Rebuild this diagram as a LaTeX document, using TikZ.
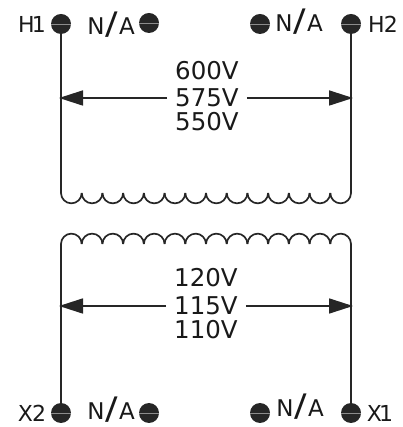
\documentclass[tikz,border=0pt]{standalone}
\usepackage{fontspec}
\setmainfont{DejaVu Sans}
\usetikzlibrary{arrows.meta}
\tikzset{
	terminal/.style = {circle, fill=black!85, draw=none, minimum size=20pt, inner sep=0pt,
		path picture={\draw[black!45, line width=0.7pt] (path picture bounding box.west) -- (path picture bounding box.east);}},
	wire/.style = {line width=2pt, black!85},
	coil/.style = {line width=1.7pt, black!85},
	dimline/.style = {line width=1.7pt, black!85, -{Triangle[length=24pt,width=15pt]}, shorten >=-2pt},
	lbl/.style = {font=\fontsize{22}{22}\selectfont, text=black!90, inner sep=0pt},
	nalbl/.style = {lbl, font=\fontsize{23}{23}\selectfont, anchor=base},
	volt/.style = {lbl, font=\fontsize{24.5}{24.5}\selectfont, inner xsep=8pt}
}
\newcommand{\terminalnode}[3]{
	\node[terminal] (#1) at (#2,#3) {};
}
\newcommand{\notused}{N\kern 1pt{\fontsize{31}{31}\selectfont\scalebox{1.2}[1]{/}}\kern 1pt A}
\begin{document}
\begin{tikzpicture}[x=1pt,y=1pt]
	\useasboundingbox (0,0) rectangle (402,427);
	% terminals
	\terminalnode{H1}{61}{403}
	\terminalnode{NAa}{149}{404}
	\terminalnode{NAb}{260}{403}
	\terminalnode{H2}{351}{403}
	\terminalnode{X2}{61}{14}
	\terminalnode{NAc}{149}{14}
	\terminalnode{NAd}{260}{14}
	\terminalnode{X1}{351}{14}
	\node[lbl] (labelH1) at (32,403) {H\kern-3pt 1};
	\node[nalbl] (labelNAa) at (111,392) {\notused};
	\node[nalbl] (labelNAb) at (299,395) {\notused};
	\node[lbl] (labelH2) at (383,403) {H\kern-1pt 2};
	\node[lbl] (labelX2) at (32,14) {X\kern-1pt 2};
	\node[nalbl] (labelNAc) at (111,7.5) {\notused};
	\node[nalbl] (labelNAd) at (300,10) {\notused};
	\node[lbl] (labelX1) at (380,14) {X\kern-3pt 1};
	% voltages
	\node[volt] (v600) at (207,356) {600V};
	\node[volt] (v575) at (207,329) {575V};
	\node[volt] (v550) at (207,305) {550V};
	\node[volt] (v120) at (206,149) {120V};
	\node[volt] (v115) at (206,121) {115V};
	\node[volt] (v110) at (206,97) {110V};
	% coil ends
	\coordinate (priL) at (61,234);
	\coordinate (priR) at (351,234);
	\coordinate (secL) at (61,183);
	\coordinate (secR) at (351,183);
	\draw[wire] (H1) -- (priL);
	\draw[wire] (H2) -- (priR);
	\draw[wire] (X2) -- (secL);
	\draw[wire] (X1) -- (secR);
	\foreach \i in {0,...,13}{
		\draw[coil] (61+\i*20.714,234) arc (180:360:10.357);
		\draw[coil] (61+\i*20.714,183) arc (180:0:10.357);
	}
	% arrows
	\coordinate (midH1) at (H1 |- v575);
	\coordinate (midH2) at (H2 |- v575);
	\coordinate (midX2) at (X2 |- v115);
	\coordinate (midX1) at (X1 |- v115);
	\draw[dimline] (v575) -- (midH1);
	\draw[dimline] (v575) -- (midH2);
	\draw[dimline] (v115) -- (midX2);
	\draw[dimline] (v115) -- (midX1);
\end{tikzpicture}
\end{document}
